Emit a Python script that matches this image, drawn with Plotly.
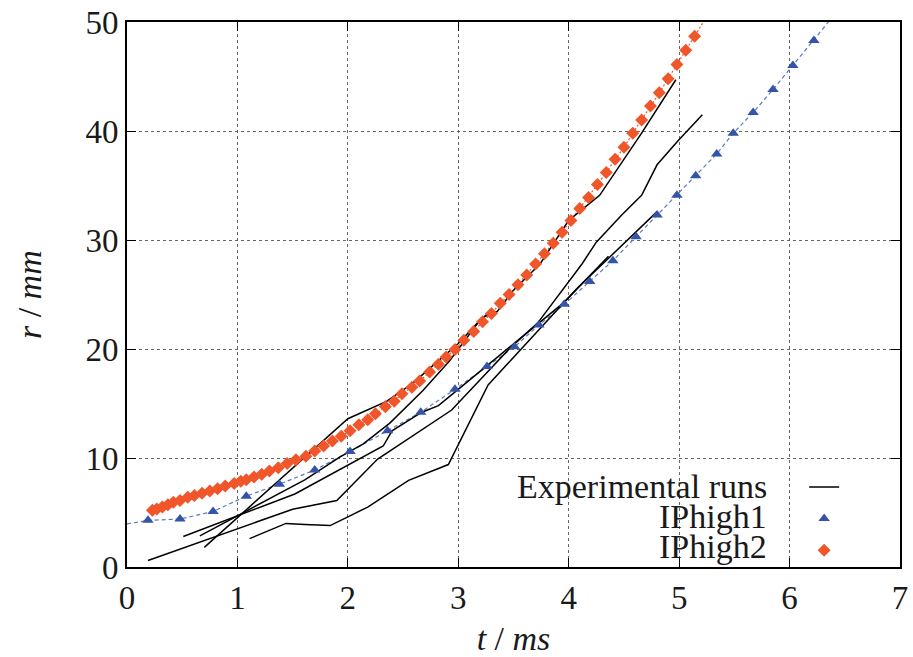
import plotly.graph_objects as go

# ---------------- data ----------------
# experimental runs (t in ms, r in mm)
run1_t = [0.70, 2.00, 2.35, 2.58, 2.83, 3.00, 3.22, 3.35, 3.50, 3.74, 4.00, 4.28, 4.66, 4.97]
run1_r = [1.8, 13.6, 15.2, 16.8, 19.0, 20.5, 22.9, 23.4, 25.4, 27.8, 31.8, 34.1, 39.8, 44.7]

run2_t = [0.66, 1.61, 1.93, 2.14, 2.38, 2.68, 2.92, 3.17, 3.29, 3.35]
run2_r = [2.85, 8.0, 10.1, 11.3, 13.2, 16.2, 18.9, 22.3, 23.5, 23.4]

run3_t = [0.51, 1.52, 2.32, 2.40, 2.67, 2.82, 3.06, 3.50, 3.96, 4.36]
run3_r = [2.8, 6.7, 11.1, 12.5, 14.2, 14.8, 16.8, 20.5, 24.3, 28.5]

run4_t = [0.19, 1.50, 1.90, 2.27, 2.94, 3.48, 3.72, 4.12, 4.25, 4.48, 4.66, 4.80, 4.99, 5.21]
run4_r = [0.6, 5.3, 6.1, 9.9, 14.4, 20.2, 22.4, 27.8, 29.8, 32.3, 34.1, 36.9, 39.1, 41.5]

run5_t = [1.11, 1.44, 1.61, 1.84, 2.00, 2.18, 2.55, 2.91, 3.27, 4.07, 4.80]
run5_r = [2.6, 4.0, 3.9, 3.8, 4.6, 5.5, 7.95, 9.4, 16.7, 25.5, 32.6]

runs_t = [run1_t, run2_t, run3_t, run4_t, run5_t]
runs_r = [run1_r, run2_r, run3_r, run4_r, run5_r]

# IPhigh1 (markers) and its dashed curve
ip1_t = [0.19, 0.48, 0.78, 1.08, 1.38, 1.70, 2.02, 2.36, 2.66, 2.97, 3.26, 3.51, 3.73,
         3.96, 4.19, 4.40, 4.61, 4.80, 4.98, 5.15, 5.34, 5.49, 5.67, 5.85, 6.03, 6.22]
ip1_r = [4.28, 4.4, 5.1, 6.5, 7.6, 8.9, 10.6, 12.5, 14.2, 16.3, 18.4, 20.2, 22.2,
         24.1, 26.2, 28.1, 30.3, 32.3, 34.1, 35.9, 37.9, 39.8, 41.7, 43.8, 46.0, 48.3]
ip1_curve_start = (0.0, 3.95)
ip1_curve_end = (6.40, 50.6)

# IPhigh2 (markers) and its dotted curve
ip2_t = [0.23, 0.27, 0.32, 0.37, 0.42, 0.48, 0.55, 0.61, 0.68, 0.75, 0.82, 0.89, 0.97, 1.03,
         1.08, 1.15, 1.22, 1.29, 1.37, 1.45, 1.53, 1.62, 1.70, 1.78, 1.86, 1.94, 2.02, 2.10,
         2.18, 2.25, 2.34, 2.42, 2.49, 2.58, 2.65, 2.74, 2.82, 2.89, 2.97, 3.05, 3.14, 3.22,
         3.30, 3.38, 3.46, 3.54, 3.62, 3.70, 3.78, 3.86, 3.94, 4.02, 4.10, 4.18, 4.26, 4.34,
         4.42, 4.50, 4.58, 4.66, 4.74, 4.82, 4.90, 4.98, 5.06, 5.14]
ip2_r = [5.2, 5.32, 5.5, 5.7, 5.94, 6.1, 6.4, 6.55, 6.76, 6.97, 7.19, 7.43, 7.65, 7.86,
         8.0, 8.26, 8.5, 8.8, 9.1, 9.5, 9.85, 10.15, 10.64, 11.1, 11.56, 12.0, 12.5, 13.06,
         13.5, 14.07, 14.7, 15.2, 15.9, 16.5, 17.06, 17.9, 18.6, 19.27, 19.95, 20.8, 21.6, 22.5,
         23.25, 24.2, 25.0, 25.9, 26.8, 27.8, 28.75, 29.7, 30.7, 31.8, 32.9, 33.9, 35.1, 36.2,
         37.4, 38.5, 39.8, 41.0, 42.3, 43.5, 44.8, 46.1, 47.4, 48.7]
ip2_curve_end = (5.22, 50.0)

legend_labels = ["Experimental runs", "IPhigh1", "IPhigh2"]
x_ticks = [0, 1, 2, 3, 4, 5, 6, 7]
y_ticks = [0, 10, 20, 30, 40, 50]
x_title = "<i>t</i> / <i>ms</i>"
y_title = "<i>r</i> / <i>mm</i>"

# ---------------- style ----------------
FONT = "Liberation Serif"
TXT = "#1a1a1a"
BLUE = "#3553a8"
BLUE_LINE = "#5a78c8"
ORANGE = "#f0562a"

fig = go.Figure()

# dashed/dotted model curves (no legend)
fig.add_trace(go.Scatter(
    x=[ip1_curve_start[0]] + ip1_t + [ip1_curve_end[0]],
    y=[ip1_curve_start[1]] + ip1_r + [ip1_curve_end[1]],
    mode="lines", line=dict(color=BLUE_LINE, width=1.2, dash="4px,3px"),
    showlegend=False, hoverinfo="skip"))
fig.add_trace(go.Scatter(
    x=ip2_t + [ip2_curve_end[0]], y=ip2_r + [ip2_curve_end[1]],
    mode="lines", line=dict(color=ORANGE, width=1.2, dash="2px,2px"),
    showlegend=False, hoverinfo="skip"))

# experimental runs
for i, (tt, rr) in enumerate(zip(runs_t, runs_r)):
    fig.add_trace(go.Scatter(
        x=tt, y=rr, mode="lines", line=dict(color="black", width=1.5),
        name=" ", legendgroup="exp", showlegend=(i == 0)))

# model markers
fig.add_trace(go.Scatter(
    x=ip1_t, y=ip1_r, mode="markers", name=" ",
    marker=dict(symbol="triangle-up", size=10, color=BLUE)))
fig.add_trace(go.Scatter(
    x=ip2_t, y=ip2_r, mode="markers", name=" ",
    marker=dict(symbol="diamond", size=10, color=ORANGE)))

# white box behind legend (hides gridlines like the original key)
fig.add_shape(type="rect", xref="paper", yref="paper",
              x0=0.493, x1=0.975, y0=0.006, y1=0.181,
              fillcolor="white", line=dict(width=0), layer="between")

# legend text (right-aligned, left of the symbols)
rows_y = [0.147, 0.093, 0.037]
for lab, yy in zip(legend_labels, rows_y):
    fig.add_annotation(xref="paper", yref="paper", x=0.831, y=yy,
                       xanchor="right", yanchor="middle", text=lab, showarrow=False,
                       font=dict(family=FONT, size=34, color=TXT))

# y axis title placed as rotated text
fig.add_annotation(xref="paper", yref="paper", x=-0.126, y=0.5,
                   xanchor="center", yanchor="middle", text=y_title, textangle=-90,
                   showarrow=False, font=dict(family=FONT, size=34, color=TXT))

axis_common = dict(
    showgrid=True, gridcolor="#666666", gridwidth=1, griddash="dot",
    ticks="inside", ticklen=9, tickwidth=1.2, tickcolor="black",
    showline=True, linecolor="black", linewidth=2, mirror="allticks",
    zeroline=False, automargin=False,
    tickfont=dict(family=FONT, size=33, color=TXT),
)

fig.update_layout(
    width=913, height=657,
    margin=dict(l=127, r=13, t=22, b=90, autoexpand=False),
    paper_bgcolor="white", plot_bgcolor="white",
    xaxis=dict(range=[0, 7], tickvals=x_ticks,
               title=dict(text=x_title, font=dict(family=FONT, size=34, color=TXT)),
               **axis_common),
    yaxis=dict(range=[0, 50], tickvals=y_ticks, **axis_common),
    legend=dict(x=0.876, y=0.185, xanchor="left", yanchor="top",
                bgcolor="rgba(0,0,0,0)", font=dict(family=FONT, size=22),
                tracegroupgap=0, itemwidth=30),
    showlegend=True,
)

fig.write_html("out.html")
